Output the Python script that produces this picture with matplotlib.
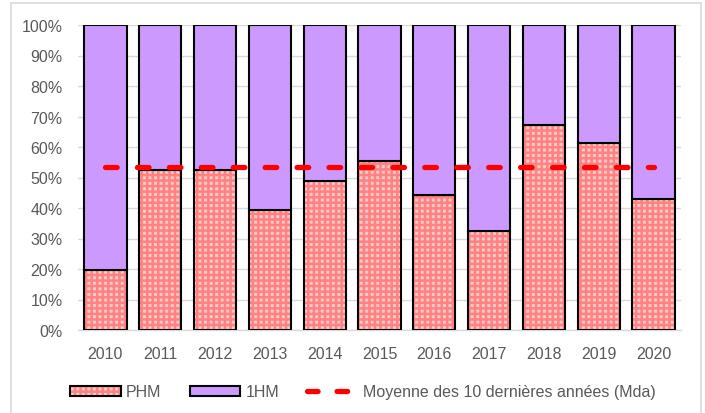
import matplotlib
matplotlib.use("Agg")
import matplotlib.pyplot as plt
from matplotlib.patches import Patch, Rectangle
from matplotlib.lines import Line2D
from matplotlib.legend_handler import HandlerPatch
import numpy as np

years = ["2010", "2011", "2012", "2013", "2014", "2015", "2016", "2017", "2018", "2019", "2020"]
phm = [19.7, 52.6, 52.6, 39.3, 48.7, 55.3, 44.2, 32.5, 67.2, 61.3, 43.0]
hm1 = [100 - v for v in phm]
moyenne = 53.4
y_ticks = [0, 10, 20, 30, 40, 50, 60, 70, 80, 90, 100]
y_tick_labels = [f"{t}%" for t in y_ticks]

plt.rcParams['font.family'] = ['Liberation Sans Narrow', 'Liberation Sans', 'DejaVu Sans']
plt.rcParams['hatch.linewidth'] = 1.8

fig = plt.figure(figsize=(7.05, 4.14), dpi=100)
# outer chart border
fig.patches.append(Rectangle((11/705, -0.01), (701-11)/705, 1 - 4/414 + 0.01,
                             transform=fig.transFigure, fill=False,
                             edgecolor='#d9d9d9', linewidth=1.2))

ax = fig.add_axes([78/705, 1 - 331/414, (681-78)/705, (331-26)/414])
x = np.arange(len(years))
w = 0.77
pink_face = '#ffcaca'
pink_hatch = '#ff8282'
purple = '#cc99ff'
HATCH = '+++'

ax.bar(x, phm, w, color=pink_face, edgecolor=pink_hatch, hatch=HATCH, linewidth=0, zorder=3)
ax.bar(x, phm, w, fill=False, edgecolor='black', linewidth=1.5, zorder=4)
ax.bar(x, hm1, w, bottom=phm, color=purple, edgecolor='black', linewidth=1.5, zorder=4)

ax.plot(x, [moyenne] * len(x), color='#ff0000', linewidth=3.8,
        dashes=(2.2, 3.85), dash_capstyle='round', zorder=5)

ax.set_xlim(-0.5, len(years) - 0.5)
ax.set_ylim(0, 100)
ax.set_yticks(y_ticks)
ax.set_yticklabels(y_tick_labels)
ax.set_xticks(x)
ax.set_xticklabels(years)
ax.tick_params(axis='both', length=0, labelsize=11.5, colors='#595959')
ax.tick_params(axis='x', pad=11.5)
ax.tick_params(axis='y', pad=11)
ax.yaxis.grid(True, color='#d9d9d9', linewidth=1.0, zorder=0)
ax.set_axisbelow(True)
for s in ['top', 'right', 'left']:
    ax.spines[s].set_visible(False)
ax.spines['bottom'].set_color('#d9d9d9')
ax.spines['bottom'].set_linewidth(1.0)

h1 = Patch(facecolor=pink_face, edgecolor='black', hatch=HATCH, linewidth=1.5)
h2 = Patch(facecolor=purple, edgecolor='black', linewidth=1.5)
h3 = Line2D([0], [0], color='#ff0000', linewidth=3.8, dashes=(2.0, 3.6), dash_capstyle='round')

class HatchHandler(HandlerPatch):
    def create_artists(self, legend, orig_handle, xdescent, ydescent, width, height, fontsize, trans):
        h = height * 0.85
        y0 = -ydescent + (height - h) / 2
        r1 = Rectangle((-xdescent, y0), width, h, facecolor=pink_face, edgecolor=pink_hatch,
                       hatch=HATCH, linewidth=0, transform=trans)
        r2 = Rectangle((-xdescent, y0), width, h, fill=False, edgecolor='black',
                       linewidth=1.5, transform=trans)
        return [r1, r2]

class PlainHandler(HandlerPatch):
    def create_artists(self, legend, orig_handle, xdescent, ydescent, width, height, fontsize, trans):
        h = height * 0.85
        y0 = -ydescent + (height - h) / 2
        r = Rectangle((-xdescent, y0), width, h, facecolor=purple, edgecolor='black',
                      linewidth=1.5, transform=trans)
        return [r]

leg = fig.legend([h1, h2, h3], ["PHM", "1HM", "Moyenne des 10 dernières années (Mda)"],
                 loc='center', bbox_to_anchor=(363/705, 1 - 393/414), ncol=3, frameon=False,
                 fontsize=11.5, handlelength=3.15, handleheight=0.75, handletextpad=0.35,
                 columnspacing=1.75,
                 handler_map={h1: HatchHandler(), h2: PlainHandler()})
for t in leg.get_texts():
    t.set_color('#595959')

fig.savefig("out.png", dpi=100)
